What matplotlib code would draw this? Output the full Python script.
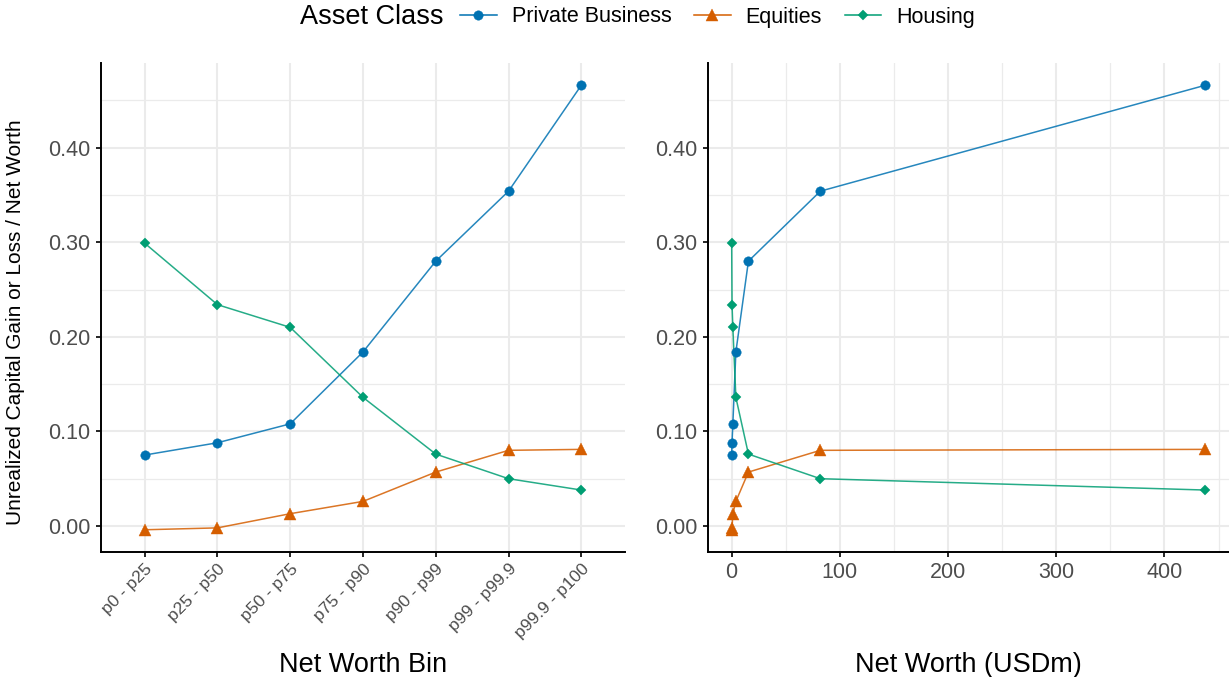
import numpy as np
import matplotlib
matplotlib.use("Agg")
import matplotlib.pyplot as plt
from matplotlib.lines import Line2D
from matplotlib.ticker import MultipleLocator, FormatStrFormatter

plt.rcParams['font.family'] = ['Liberation Sans', 'DejaVu Sans']

bins = ['p0 - p25', 'p25 - p50', 'p50 - p75', 'p75 - p90',
        'p90 - p99', 'p99 - p99.9', 'p99.9 - p100']
net_worth = [0.03, 0.35, 1.1, 3.9, 15.5, 82.0, 437.8]  # USD millions
private_business = [0.075, 0.088, 0.108, 0.184, 0.280, 0.354, 0.466]
equities = [-0.004, -0.002, 0.013, 0.026, 0.057, 0.080, 0.081]
housing = [0.299, 0.234, 0.210, 0.136, 0.076, 0.050, 0.038]

series = [
    ('Private Business', private_business, '#0072B2', 'o', 6.8),
    ('Equities', equities, '#D55E00', '^', 8.6),
    ('Housing', housing, '#009E73', 'D', 4.6),
]

grey = '#4D4D4D'
grid_col = '#EBEBEB'

fig = plt.figure(figsize=(12.29, 6.77), dpi=100)
W, H = 1229, 677
ax1 = fig.add_axes([101 / W, 1 - 552 / H, 524 / W, 489 / H])
ax2 = fig.add_axes([708 / W, 1 - 552 / H, 521 / W, 489 / H])

# ggplot-style 5% expansion on continuous scales
all_y = np.concatenate([private_business, equities, housing])
ypad = 0.05 * (all_y.max() - all_y.min())
ylim = (all_y.min() - ypad, all_y.max() + ypad)
xpad = 0.05 * (max(net_worth) - min(net_worth))

xpos = np.arange(len(bins))
for name, vals, col, mk, ms in series:
    for ax, xs in ((ax1, xpos), (ax2, net_worth)):
        ax.plot(xs, vals, color=col, lw=1.1, alpha=0.85, zorder=3)
        ax.plot(xs, vals, ls='none', marker=mk, ms=ms, color=col,
                mec=col, mew=0.3, zorder=4)

ax1.set_xlim(-0.6, len(bins) - 0.4)
ax1.set_xticks(xpos)
ax1.set_xticklabels(bins, rotation=45, ha='right', rotation_mode='anchor')
ax2.set_xlim(min(net_worth) - xpad, max(net_worth) + xpad)
ax2.xaxis.set_major_locator(MultipleLocator(100))
ax2.xaxis.set_minor_locator(MultipleLocator(50))

for ax in (ax1, ax2):
    ax.set_ylim(*ylim)
    ax.yaxis.set_major_locator(MultipleLocator(0.1))
    ax.yaxis.set_minor_locator(MultipleLocator(0.05))
    ax.yaxis.set_major_formatter(FormatStrFormatter('%.2f'))
    ax.grid(which='major', color=grid_col, lw=1.5, zorder=0)
    ax.grid(which='minor', color=grid_col, lw=0.9, zorder=0)
    ax.set_axisbelow(True)
    for s in ('top', 'right'):
        ax.spines[s].set_visible(False)
    for s in ('left', 'bottom'):
        ax.spines[s].set_linewidth(1.4)
        ax.spines[s].set_color('black')
    ax.tick_params(which='major', length=3.5, width=1.2, color='black',
                   labelcolor=grey, labelsize=15.5, pad=4)
    ax.tick_params(which='minor', length=0)

ax1.tick_params(axis='x', labelsize=12.5, pad=3)

ax1.set_ylabel('Unrealized Capital Gain or Loss / Net Worth', fontsize=15)
ax1.yaxis.set_label_coords(-0.145, 0.47)
ax1.set_xlabel('Net Worth Bin', fontsize=19.5, va='top')
ax2.set_xlabel('Net Worth (USDm)', fontsize=19.5, va='top')
ax1.xaxis.set_label_coords(0.5, -0.205)
ax2.xaxis.set_label_coords(0.5, -0.205)

# legend across the top
handles = [Line2D([0], [0], color=col, lw=1.1, marker=mk, ms=ms, mew=0.3)
           for _, _, col, mk, ms in series]
labels = [s[0] for s in series]
fig.text(300 / W, 1 - 17 / H, 'Asset Class', fontsize=19.5, va='center', ha='left')
fig.legend(handles, labels, loc='center left', bbox_to_anchor=(460 / W, 1 - 17 / H),
           ncol=3, frameon=False, fontsize=15.5, handlelength=1.7,
           handletextpad=0.7, columnspacing=1.05, borderpad=0, borderaxespad=0)

fig.savefig('out.png', dpi=100)
